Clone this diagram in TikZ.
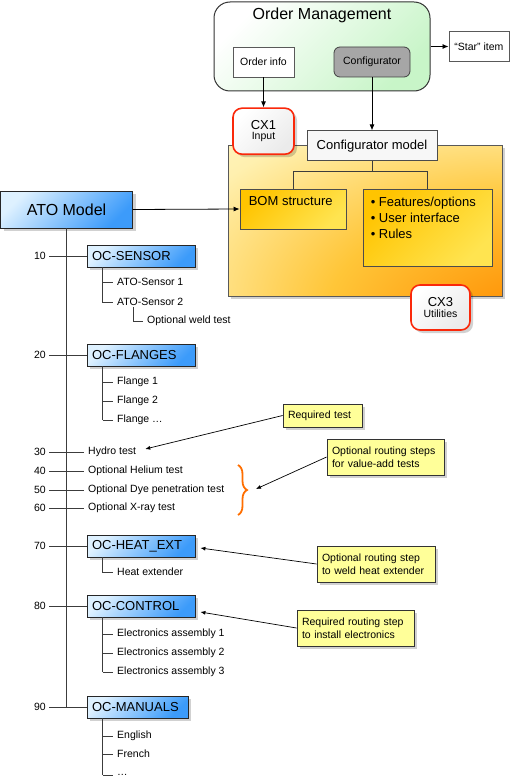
\documentclass[tikz,border=0pt]{standalone}
\usepackage{fontspec}
\setmainfont{Liberation Sans}
\usetikzlibrary{shapes,arrows.meta,positioning,shadows,decorations.pathreplacing}

\newcommand{\bigfnt}{\fontsize{16}{19}\selectfont}
\newcommand{\midfnt}{\fontsize{13}{16}\selectfont}
\newcommand{\smallfnt}{\fontsize{10.5}{12.5}\selectfont}

\definecolor{paleblue}{RGB}{222,241,255}
\definecolor{boxblue}{RGB}{60,155,250}
\definecolor{notefill}{RGB}{255,255,153}
\definecolor{cxred}{RGB}{250,40,10}
\definecolor{braceorange}{RGB}{255,110,0}
\definecolor{goldlight}{RGB}{255,228,80}
\definecolor{golddark}{RGB}{255,196,0}
\definecolor{paleyellow}{RGB}{255,253,225}
\definecolor{midyellow}{RGB}{255,240,175}
\definecolor{deeporange}{RGB}{255,140,0}
\definecolor{palegreen}{RGB}{200,245,200}
\definecolor{linegray}{RGB}{60,60,60}

% glow from the lower right corner of the configurator area
\pgfdeclareradialshading{areaglow}{\pgfpoint{50bp}{-50bp}}{%
  color(0bp)=(deeporange); color(16bp)=(deeporange);
  color(38bp)=(goldlight!70!orange); color(58bp)=(midyellow);
  color(78bp)=(paleyellow); color(100bp)=(paleyellow)}

\tikzset{
  every node/.style={
    font=\smallfnt
  },
  softshadow/.style={
    drop shadow={shadow xshift=3pt, shadow yshift=-3pt, fill=black, opacity=0.18}
  },
  ombox/.style={
    shape=rectangle,
    rounded corners=16pt,
    draw=black!80,
    line width=1pt,
    left color=white,
    right color=palegreen,
    shading angle=45
  },
  plainbox/.style={
    shape=rectangle,
    draw=black!65,
    fill=white,
    line width=0.8pt
  },
  toolbox/.style={
    shape=rectangle,
    rounded corners=6pt,
    draw=black!75,
    fill=black!35,
    line width=0.8pt
  },
  cxbox/.style={
    shape=rectangle,
    rounded corners=9pt,
    draw=cxred,
    line width=1.6pt,
    left color=white,
    right color=black!8,
    shading angle=45,
    align=center,
    softshadow
  },
  modelbox/.style={
    shape=rectangle,
    draw=black!70,
    fill=black!3,
    line width=0.8pt,
    font=\midfnt
  },
  areabox/.style={
    shape=rectangle,
    draw=black!65,
    line width=0.8pt,
    shading=areaglow,
    softshadow
  },
  goldbox/.style={
    shape=rectangle,
    draw=black!70,
    line width=0.8pt,
    left color=golddark,
    right color=goldlight,
    shading angle=45
  },
  atobox/.style={
    shape=rectangle,
    draw=black!85,
    line width=0.8pt,
    left color=paleblue,
    right color=boxblue,
    shading angle=45,
    font=\bigfnt,
    softshadow
  },
  ocbox/.style={
    shape=rectangle,
    draw=black!85,
    line width=0.8pt,
    left color=paleblue,
    right color=boxblue,
    shading angle=45,
    minimum height=22pt,
    inner xsep=5pt,
    align=left,
    font=\midfnt,
    softshadow
  },
  notebox/.style={
    shape=rectangle,
    draw=black!80,
    line width=0.8pt,
    fill=notefill,
    inner xsep=5pt,
    align=left,
    softshadow
  },
  itemtext/.style={anchor=west, inner xsep=4pt, inner ysep=1pt},
  steptext/.style={anchor=west, inner xsep=4pt, inner ysep=1pt},
  numtext/.style={anchor=east, inner xsep=3pt, inner ysep=1pt},
  trunk/.style={draw=linegray, line width=1.2pt},
  branch/.style={draw=linegray, line width=0.9pt},
  arrowline/.style={draw=black, line width=0.8pt, -{Latex[length=6pt,width=5pt]}},
  callout/.style={draw=black, line width=0.7pt, -{Latex[length=5pt,width=4pt]}},
  bracemark/.style={draw=braceorange, line width=1.8pt, decorate,
    decoration={brace, amplitude=9pt}}
}

\begin{document}
\begin{tikzpicture}[x=1pt,y=-1pt]
  \useasboundingbox (0,0) rectangle (513,781);

  % order management
  \node[ombox, minimum width=216pt, minimum height=89pt] (om) at (322,46.5) {};
  \node[font=\bigfnt] (omtitle) at (322,15.5) {Order Management};
  \node[plainbox, minimum width=61pt, minimum height=30pt] (orderinfo) at (263.5,62) {Order info};
  \node[toolbox, minimum width=76pt, minimum height=30pt] (cfg) at (372,62) {Configurator};
  \node[plainbox, minimum width=60pt, minimum height=30pt, right=18pt of om] (star) {“Star” item};
  \draw[arrowline] (om) -- (star);

  % configurator area
  \node[areabox, minimum width=274pt, minimum height=151pt] (area) at (365,220.5) {};
  \node[cxbox, minimum width=61pt, minimum height=46pt, below=30pt of orderinfo] (cx1) {{\midfnt CX1}\\[-2pt]Input};
  \node[modelbox, minimum width=130pt, minimum height=30pt, below=53pt of cfg] (cfgmodel) {Configurator model};
  \node[goldbox, minimum width=106pt, minimum height=40pt] (bom) at (293,209) {};
  \node[font=\midfnt, anchor=north west, inner sep=0pt] (bomtxt)
    at ([xshift=9pt,yshift=-8pt]bom.north west) {BOM structure};
  \node[goldbox, minimum width=129pt, minimum height=77pt] (feat) at (427.5,227.5) {};
  \node[font=\midfnt, anchor=north west, align=left, inner sep=0pt] (feattxt)
    at ([xshift=8pt,yshift=-8pt]feat.north west) {• Features/options\\• User interface\\• Rules};
  \node[cxbox, minimum width=59pt, minimum height=45pt] (cx3) at (440.5,307.5) {{\midfnt CX3}\\[-2pt]Utilities};
  \draw[arrowline] (orderinfo) -- (cx1);
  \draw[arrowline] (cfg) -- (cfgmodel);
  \draw[branch] (cfgmodel.south) -- ++(0,10) -| (bom.north);
  \draw[branch] (cfgmodel.south) ++(0,10) -| (feat.north);

  % ATO model and its operations
  \node[atobox, minimum width=132pt, minimum height=37pt] (ato) at (66.5,209.5) {ATO Model};
  \draw[arrowline] (ato.east) -- (bom.west);

  \node[ocbox, text width=98pt] (sensor) at (141,256) {OC-SENSOR};
  \node[ocbox, text width=98pt] (flanges) at (141,355) {OC-FLANGES};
  \node[steptext] (hydro) at (84,452) {Hydro test};
  \node[steptext] (helium) at (84,471) {Optional Helium test};
  \node[steptext] (dye) at (84,490) {Optional Dye penetration test};
  \node[steptext] (xray) at (84,508) {Optional X-ray test};
  \node[ocbox, text width=98pt] (heat) at (141,546) {OC-HEAT\_EXT};
  \node[ocbox, text width=98pt] (control) at (141,606) {OC-CONTROL};
  \node[ocbox, text width=91pt] (manuals) at (137.5,707) {OC-MANUALS};

  \draw[trunk] (ato.south) -- (ato.south |- manuals.west);

  \coordinate (numx) at (49,0);
  \foreach \n/\tgt in {10/sensor,20/flanges,30/hydro,40/helium,50/dye,60/xray,70/heat,80/control,90/manuals}{
    \node[numtext] (n\n) at (numx |- \tgt.west) {\n};
    \draw[branch] (n\n) -- (\tgt);
  }

  % parts under each operation
  \node[itemtext] (sns1) at (113,282) {ATO-Sensor 1};
  \node[itemtext] (sns2) at (113,302) {ATO-Sensor 2};
  \node[itemtext] (weld) at (143,321) {Optional weld test};
  \coordinate (snsx) at ([xshift=16pt]sensor.south west);
  \draw[branch] (snsx) |- (sns2);
  \draw[branch] (snsx |- sns1) -- (sns1);
  \draw[branch] ([xshift=20pt]sns2.south west) |- (weld);

  \coordinate (flgx) at ([xshift=16pt]flanges.south west);
  \foreach \t [count=\i] in {Flange 1, Flange 2, Flange \ldots}{
    \node[itemtext] (flg\i) at (113,363+19*\i) {\t};
    \draw[branch] (flgx |- flg\i) -- (flg\i);
  }
  \draw[branch] (flgx) -- (flgx |- flg3);

  \node[itemtext] (heatx) at (113,572) {Heat extender};
  \draw[branch] ([xshift=16pt]heat.south west) |- (heatx);

  \coordinate (elecx) at ([xshift=16pt]control.south west);
  \foreach \i in {1,2,3}{
    \node[itemtext] (elec\i) at (113,615+19*\i) {Electronics assembly \i};
    \draw[branch] (elecx |- elec\i) -- (elec\i);
  }
  \draw[branch] (elecx) -- (elecx |- elec3);

  \coordinate (manx) at ([xshift=16pt]manuals.south west);
  \node[itemtext] (english) at (113,736) {English};
  \node[itemtext] (french) at (113,754) {French};
  \node[itemtext] (more) at (113,775) {\ldots};
  \foreach \m in {english,french,more}{
    \draw[branch] (manx |- \m) -- (\m);
  }
  \draw[branch] (manx) -- (manx |- more);

  % optional tests brace
  \coordinate (bracetop) at (238,465);
  \coordinate (bracebot) at (238,515);
  \coordinate (bracetip) at (256,489);
  \draw[bracemark] (bracetop) -- (bracebot);

  % notes
  \node[notebox, text width=69pt, minimum height=23pt] (reqnote) at (322.5,415.5) {Required test};
  \node[notebox, text width=107pt, minimum height=36pt] (optnote) at (385.5,457) {Optional routing steps\\for value-add tests};
  \node[notebox, text width=108pt, minimum height=36pt] (heatnote) at (376,564) {Optional routing step\\to weld heat extender};
  \node[notebox, text width=107pt, minimum height=36pt] (ctrlnote) at (355.5,628) {Required routing step\\to install electronics};
  \draw[callout] (reqnote.west) -- ([xshift=5pt,yshift=3pt]hydro.east);
  \draw[callout] (optnote.west) -- (bracetip);
  \draw[callout] (heatnote.west) -- ([xshift=5pt,yshift=-2pt]heat.east);
  \draw[callout] (ctrlnote.west) -- ([xshift=5pt,yshift=-6pt]control.east);
\end{tikzpicture}
\end{document}
